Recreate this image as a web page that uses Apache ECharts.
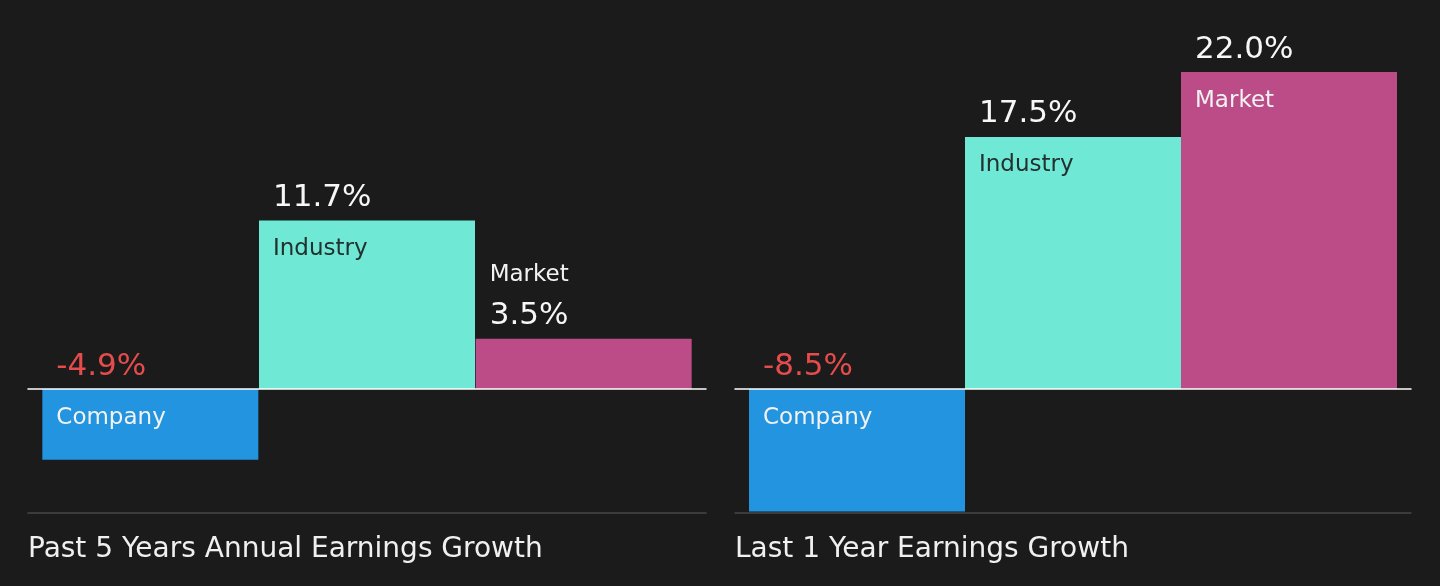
<!DOCTYPE html>
<html style="height: 100%">
<head>
    <meta charset="UTF-8">
    <title>Earnings Growth</title>
    <script src="https://cdn.jsdelivr.net/npm/echarts/dist/echarts.min.js"></script>
    <style>
        #main {
            height: 100%;
        }
    </style>
</head>
<body style="height: 100%; margin: 0; background: #1b1b1b">
    <div id="main"></div>
    <script type="text/javascript">
        var categories = ['Company', 'Industry', 'Market'];
        var past5Years = [-4.9, 11.7, 3.5];
        var last1Year = [-8.5, 17.5, 22.0];
        var panelTitles = ['Past 5 Years Annual Earnings Growth', 'Last 1 Year Earnings Growth'];
        var barColors = ['#2394df', '#6fe8d6', '#bc4c87'];
        var nameColors = ['#f2f2f2', '#22302e', '#f2f2f2'];

        var chartDom = document.getElementById('main');
        var myChart = echarts.init(chartDom);
        var font = 'DejaVu Sans';
        var yMin = -8.6, yMax = 27.0;

        // each panel: frame grid (baseline), frame grid (bottom rule), bar grid
        var panels = [
            { frameLeft: 28, frameRight: 1440 - 706, barLeft: 42, barRight: 1440 - 692, data: past5Years },
            { frameLeft: 735, frameRight: 1440 - 1411, barLeft: 749, barRight: 1440 - 1397, data: last1Year }
        ];

        var grids = [], xAxes = [], yAxes = [], series = [], titles = [];

        panels.forEach(function (p, pi) {
            var g0 = grids.length;
            grids.push({ left: p.frameLeft, right: p.frameRight, top: 0, bottom: 73 });
            grids.push({ left: p.frameLeft, right: p.frameRight, top: 0, bottom: 73 });
            grids.push({ left: p.barLeft, right: p.barRight, top: 0, bottom: 73 });

            for (var k = 0; k < 3; k++) {
                yAxes.push({ type: 'value', gridIndex: g0 + k, min: yMin, max: yMax, show: false });
            }
            // white zero line
            xAxes.push({
                type: 'category', gridIndex: g0, data: categories, z: 5,
                axisLine: { onZero: true, lineStyle: { color: '#ffffff', width: 1.5 } },
                axisTick: { show: false }, axisLabel: { show: false }, splitLine: { show: false }
            });
            // gray bottom rule
            xAxes.push({
                type: 'category', gridIndex: g0 + 1, data: categories, position: 'bottom',
                axisLine: { onZero: false, lineStyle: { color: '#474747', width: 1.5 } },
                axisTick: { show: false }, axisLabel: { show: false }, splitLine: { show: false }
            });
            // bars
            xAxes.push({
                type: 'category', gridIndex: g0 + 2, data: categories, show: false
            });

            var barAxis = xAxes.length - 1;
            var barY = yAxes.length - 1;

            series.push({
                type: 'bar',
                xAxisIndex: barAxis,
                yAxisIndex: barY,
                barWidth: 216,
                silent: true,
                data: p.data.map(function (v, i) {
                    return {
                        value: v,
                        itemStyle: { color: barColors[i] },
                        label: { color: v < 0 ? '#e64c4c' : '#f7f7f7' }
                    };
                }),
                label: {
                    show: true,
                    position: [14, -7],
                    align: 'left',
                    verticalAlign: 'bottom',
                    fontFamily: font,
                    fontSize: 31,
                    lineHeight: 31,
                    formatter: function (d) { return d.value.toFixed(1) + '%'; }
                }
            });

            series.push({
                type: 'bar',
                xAxisIndex: barAxis,
                yAxisIndex: barY,
                barWidth: 216,
                barGap: '-100%',
                silent: true,
                z: 3,
                data: p.data.map(function (v, i) {
                    var small = Math.abs(v) < 5 && v > 0;
                    return {
                        value: v,
                        itemStyle: { color: 'rgba(0,0,0,0)' },
                        label: {
                            color: small ? '#f2f2f2' : nameColors[i],
                            position: small ? [14, -75] : [14, 17]
                        }
                    };
                }),
                label: {
                    show: true,
                    align: 'left',
                    verticalAlign: 'top',
                    fontFamily: font,
                    fontSize: 23,
                    lineHeight: 23,
                    formatter: function (d) { return d.name; }
                }
            });

            titles.push({
                text: panelTitles[pi],
                left: p.frameLeft,
                top: 536,
                padding: 0,
                textStyle: { color: '#f0f0f0', fontFamily: font, fontSize: 28, fontWeight: 'normal' }
            });
        });

        var option = {
            backgroundColor: '#1b1b1b',
            animation: false,
            title: titles,
            grid: grids,
            xAxis: xAxes,
            yAxis: yAxes,
            series: series
        };

        myChart.setOption(option);
    </script>
</body>
</html>
